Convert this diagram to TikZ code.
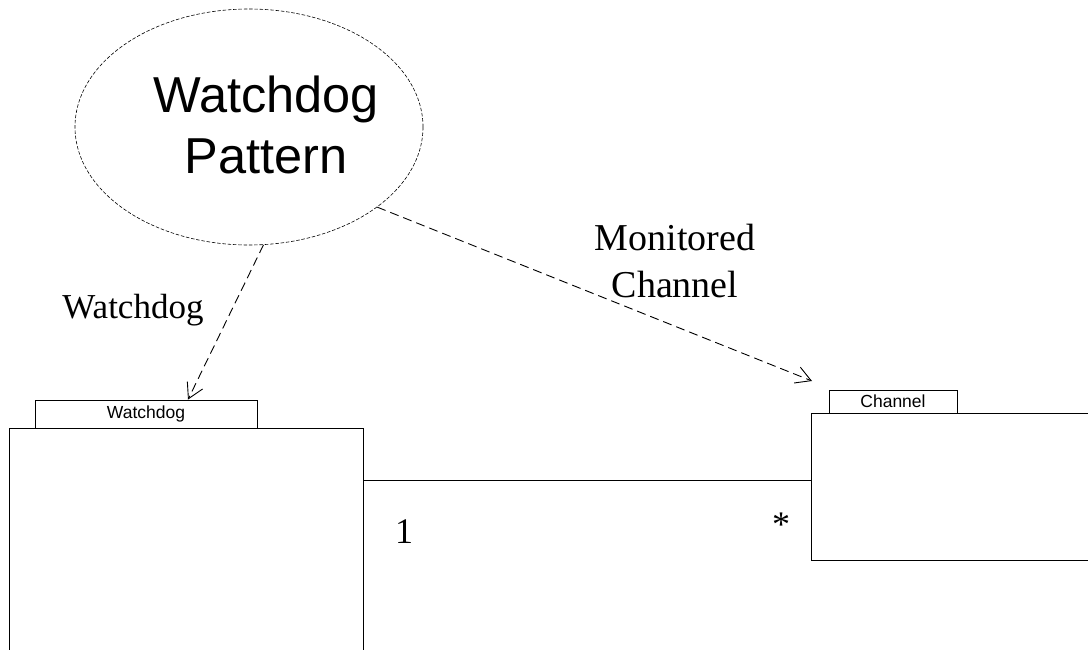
\documentclass[tikz,border=0pt]{standalone}
\usepackage{fontspec}
\setmainfont{Liberation Serif}
\newfontfamily\arialfont{Liberation Sans}
\usetikzlibrary{arrows.meta,shapes.geometric}

\tikzset{
  classbody/.style={draw=black, line width=0.9pt, rectangle, anchor=north west, inner sep=0pt},
  classtag/.style={draw=black, line width=0.9pt, fill=white, rectangle, inner sep=0pt,
                   font=\arialfont\fontsize{17.5}{20}\selectfont},
  collab/.style={draw=black, line width=0.6pt, ellipse, dash pattern=on 3.5pt off 1.8pt, inner sep=0pt},
  rolelink/.style={draw=black, line width=0.9pt, dash pattern=on 9pt off 5pt,
                   -{Straight Barb[length=15pt,width=17pt,line width=0.9pt]}},
  assocline/.style={draw=black, line width=0.9pt},
  seriflab/.style={inner sep=0pt, font=\fontsize{35}{42}\selectfont},
}

\begin{document}
\begin{tikzpicture}[x=1pt,y=-1pt]
  \useasboundingbox (0,0) rectangle (1088,649);
  \fill[white] (0,0) rectangle (1088,649);
  \clip (0,0) rectangle (1088,649);

  % collaboration
  \node[collab, minimum width=348pt, minimum height=236pt] (pat) at (249,127) {};
  \node[inner sep=0pt, align=center, font=\arialfont\fontsize{50.5}{61}\selectfont]
    (patname) at (266,125) {Watchdog\\Pattern};

  % classes
  \node[classbody, minimum width=354pt, minimum height=260pt] (wdbody) at (9,428) {};
  \node[classtag, minimum width=222pt, minimum height=28pt] (wdtag) at (146,414) {Watchdog};

  \node[classbody, minimum width=320pt, minimum height=147pt] (chbody) at (811,413) {};
  \node[classtag, minimum width=128pt, minimum height=23pt] (chtag) at (893,401.5) {Channel};

  % association between the classes
  \coordinate (assoc) at (0,480);
  \draw[assocline] (wdbody.east |- assoc) -- (chbody.west |- assoc);
  \node[seriflab, font=\fontsize{36}{42}\selectfont] (mone) at (404,531.5) {1};
  \node[seriflab, font=\fontsize{36}{42}\selectfont] (mmany) at (781,525) {*};

  % role bindings
  \draw[rolelink] (pat.-83) -- ([xshift=42pt]wdtag.north);
  \draw[rolelink] (pat.-32) -- ([xshift=1pt,yshift=32pt]chbody.north west);

  \node[seriflab, anchor=base] (wdrole) at (133,318) {Watchdog};
  \node[seriflab, align=center, font=\fontsize{38}{47}\selectfont] (chrole) at (675,260.5)
    {Monitored\\Channel};
\end{tikzpicture}
\end{document}
